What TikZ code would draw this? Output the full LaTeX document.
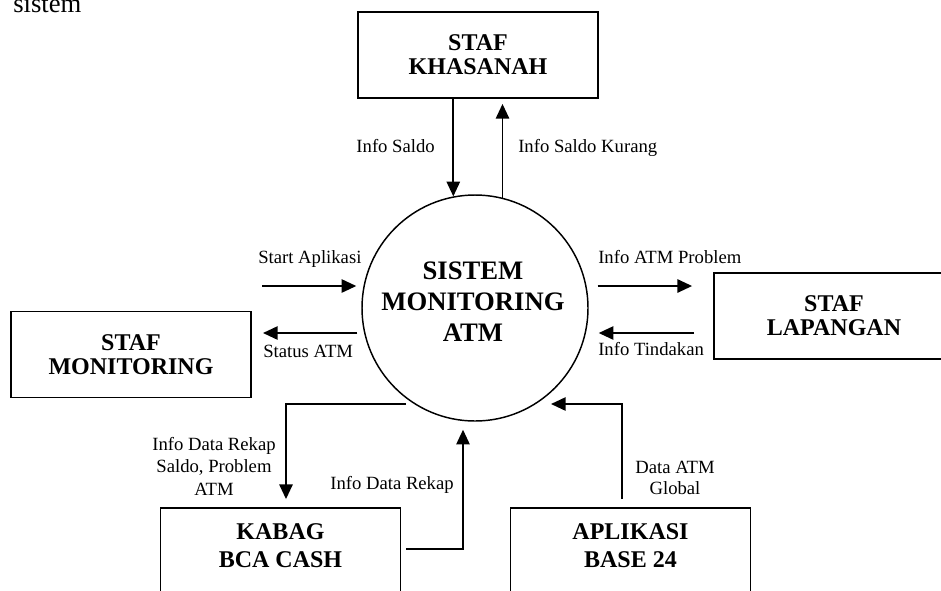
\documentclass[tikz,border=0pt]{standalone}
\usepackage{fontspec}
\setmainfont{Liberation Serif}
\usetikzlibrary{arrows.meta,calc}
\begin{document}
\begin{tikzpicture}[x=0.75pt,y=-0.75pt,
  box/.style={draw,line width=1.4pt,minimum width=180pt,minimum height=64.5pt,inner sep=0pt,align=center,font=\fontsize{18}{18}\selectfont\bfseries},
  boxtext/.style={inner sep=0pt,align=center,font=\fontsize{18}{21}\selectfont\bfseries},
  lbl/.style={inner sep=0pt,align=center,font=\fontsize{14}{16}\selectfont},
  arr/.style={line width=1.25pt,-{Triangle[length=11pt,width=10pt]}}]
\useasboundingbox (0,0) rectangle (941,590);
\clip (0,0) rectangle (941,590);

\node[anchor=base west,inner sep=0pt,font=\fontsize{20}{24}\selectfont] (sis) at (13,12.5) {sistem};

% boxes
\node[box] (khas) at (478,55) {STAF\\KHASANAH};
\node[box] (mon) at (131,354.5) {STAF\\MONITORING};
\node[box] (lap) at (834,316) {STAF\\LAPANGAN};
\node[box] (kabag) at (280.5,551) {};
\node[boxtext] (kabagt) at (280.5,546) {KABAG\\BCA CASH};
\node[box] (apl) at (630.5,551) {};
\node[boxtext] (aplt) at (630.5,546) {APLIKASI\\BASE 24};

% process
\node[draw,circle,line width=1.1pt,minimum size=169.5pt,inner sep=0pt] (circ) at (475,308) {};
\node[inner sep=0pt,align=center,font=\fontsize{20}{23.25}\selectfont\bfseries] (circt) at (473,302) {SISTEM\\MONITORING\\ATM};

% flows
\draw[arr] (khas.south -| circ.101) -- (circ.101);
\draw[arr,shorten >=3.75pt] (circ.76) -- (khas.south -| circ.76);

\coordinate (sa) at (262,286);
\draw[arr] (sa) -- ($(circ.west)+(-5,-22)$);
\coordinate (st) at (263,333);
\draw[arr] ($(circ.west)+(-4,25)$) -- (st);

\draw[arr] ($(circ.east)+(9,-22)$) -- ($(lap.west)+(-21,-30)$);
\draw[arr] ($(lap.west)+(-19,17)$) -- ($(circ.east)+(10,25)$);

\draw[arr] ($(circ.center)+(-69,96)$) -| ($(kabag.north)+(5.5,-8)$);
\draw[arr] ($(kabag.east)+(5,-2)$) -| ($(circ.south)+(-12,8)$);
\draw[arr] ($(apl.north)+(-8.5,-8)$) |- ($(circ.center)+(76,96)$);

% labels
\node[lbl,anchor=base east] (l1) at (435,152) {Info Saldo};
\node[lbl,anchor=base west] (l2) at (518,152) {Info Saldo Kurang};
\node[lbl,anchor=base west] (l3) at (258,263) {Start Aplikasi};
\node[lbl,anchor=base west] (l4) at (263,357) {Status ATM};
\node[lbl,anchor=base west] (l5) at (598,263) {Info ATM Problem};
\node[lbl,anchor=base west] (l6) at (598,355) {Info Tindakan};
\node[lbl,font=\fontsize{14}{16.9}\selectfont] (l7) at (214,466) {Info Data Rekap\\Saldo, Problem\\ATM};
\node[lbl] (l8) at (392,485) {Info Data Rekap};
\node[lbl] (l9) at (675,478) {Data ATM\\Global};
\end{tikzpicture}
\end{document}
